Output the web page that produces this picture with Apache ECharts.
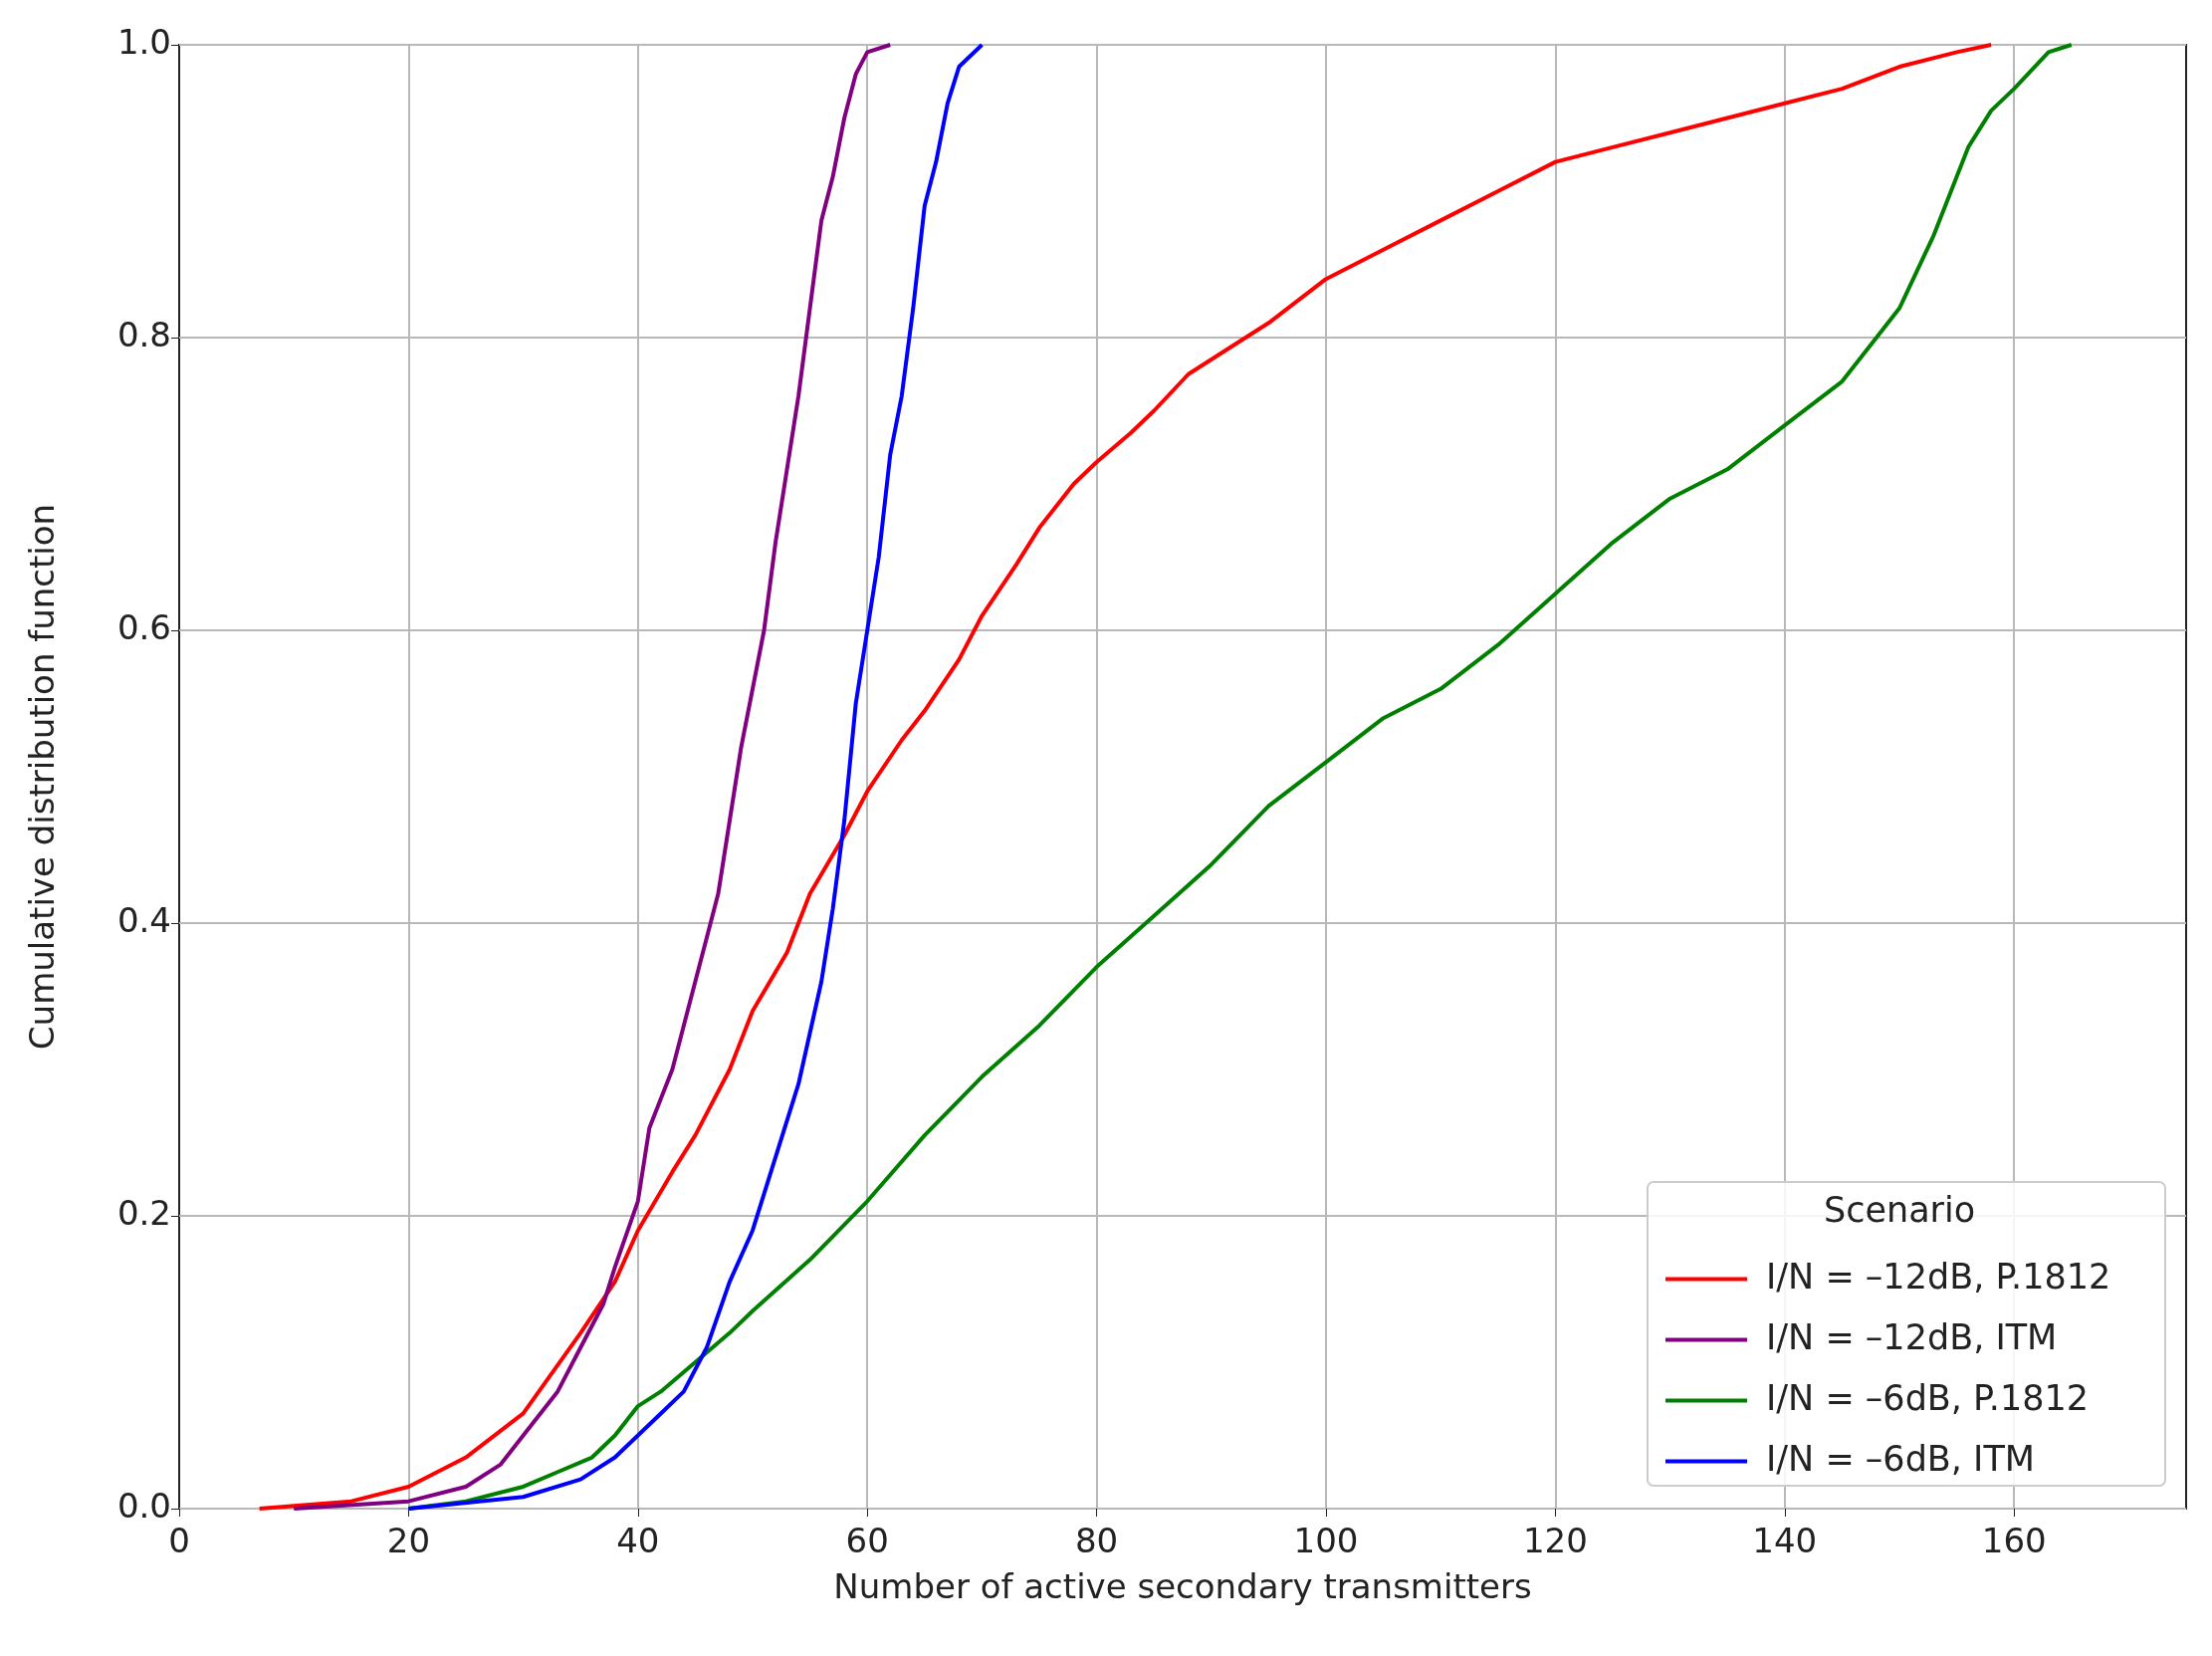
<!DOCTYPE html>
<html><head><meta charset="utf-8">
<script src="https://cdn.jsdelivr.net/npm/echarts@6/dist/echarts.min.js"></script>
<style>html,body{margin:0;padding:0;background:#fff}#c{width:2222px;height:1663px}</style>
</head><body><div id="c"></div>
<script>
const redX=[7,15,20,25,30,35,38,40,43,45,48,50,53,55,58,60,63,65,68,70,73,75,78,80,83,85,88,90,95,100,105,110,115,120,125,130,135,140,145,150,155,158];
const redY=[0,0.005,0.015,0.035,0.065,0.12,0.155,0.19,0.23,0.255,0.3,0.34,0.38,0.42,0.46,0.49,0.525,0.545,0.58,0.61,0.645,0.67,0.7,0.715,0.735,0.75,0.775,0.785,0.81,0.84,0.86,0.88,0.9,0.92,0.93,0.94,0.95,0.96,0.97,0.985,0.995,1.0];
const purX=[10,20,25,28,30,33,35,37,38,40,41,43,45,46,47,48,49,50,51,52,53,54,55,56,57,58,59,60,62];
const purY=[0,0.005,0.015,0.03,0.05,0.08,0.11,0.14,0.165,0.21,0.26,0.3,0.36,0.39,0.42,0.47,0.52,0.56,0.6,0.66,0.71,0.76,0.82,0.88,0.91,0.95,0.98,0.995,1.0];
const grnX=[20,25,30,33,36,38,40,42,45,48,50,55,60,65,70,75,80,85,90,95,100,105,110,115,120,125,130,135,140,145,148,150,153,156,158,160,163,165];
const grnY=[0,0.005,0.015,0.025,0.035,0.05,0.07,0.08,0.1,0.12,0.135,0.17,0.21,0.255,0.295,0.33,0.37,0.405,0.44,0.48,0.51,0.54,0.56,0.59,0.625,0.66,0.69,0.71,0.74,0.77,0.8,0.82,0.87,0.93,0.955,0.97,0.995,1.0];
const bluX=[20,30,35,38,40,42,44,46,48,50,52,54,56,57,58,59,60,61,62,63,64,65,66,67,68,70];
const bluY=[0,0.008,0.02,0.035,0.05,0.065,0.08,0.11,0.155,0.19,0.24,0.29,0.36,0.41,0.47,0.55,0.6,0.65,0.72,0.76,0.82,0.89,0.92,0.96,0.985,1.0];
const names=['I/N = \u201312dB, P.1812','I/N = \u201312dB, ITM','I/N = \u20136dB, P.1812','I/N = \u20136dB, ITM'];
const colors=['#ff0000','#800080','#008000','#0000ff'];
const zip=(a,b)=>a.map((v,i)=>[v,b[i]]);
const datas=[zip(redX,redY),zip(purX,purY),zip(grnX,grnY),zip(bluX,bluY)];
const font='DejaVu Sans';
const ch=echarts.init(document.getElementById('c'));
ch.setOption({
  animation:false,
  textStyle:{fontFamily:font},
  grid:{left:180,right:26,top:45,bottom:148,show:true,borderColor:'#222',borderWidth:2},
  xAxis:{type:'value',min:0,max:175,interval:20,
    axisLabel:{fontSize:34,color:'#222',margin:18,showMaxLabel:false},
    axisTick:{show:true,length:8,lineStyle:{color:'#222'}},axisLine:{show:false},
    splitLine:{lineStyle:{color:'#b8b8b8',width:2},showMinLine:false,showMaxLine:false},
    name:'Number of active secondary transmitters',nameLocation:'middle',nameGap:64,nameTextStyle:{fontSize:34,color:'#222'}},
  yAxis:{type:'value',min:0,max:1,interval:0.2,
    axisLabel:{fontSize:34,color:'#222',formatter:v=>v.toFixed(1)},
    axisTick:{show:true,length:8,lineStyle:{color:'#222'}},axisLine:{show:false},
    splitLine:{lineStyle:{color:'#b8b8b8',width:2}},
    name:'Cumulative distribution function',nameLocation:'middle',nameGap:118,nameTextStyle:{fontSize:34,color:'#222'}},
  graphic:[
    {type:'rect',shape:{x:1655,y:1187,width:520,height:305,r:6},style:{fill:'rgba(255,255,255,0.85)',stroke:'#ccc',lineWidth:2},z:50},
    {type:'text',left:1832,top:1200,style:{text:'Scenario',fontSize:35,fill:'#222',fontFamily:font},z:51}
  ],
  legend:{orient:'vertical',left:1668,top:1262,itemWidth:82,itemHeight:4,itemGap:26,icon:'rect',
    textStyle:{fontSize:35,color:'#222',fontFamily:font,padding:[0,0,0,14]},z:60,
    data:names},
  series:names.map((n,i)=>({name:n,type:'line',data:datas[i],showSymbol:false,smooth:false,
    lineStyle:{color:colors[i],width:4},itemStyle:{color:colors[i]},z:10}))
});
</script></body></html>
